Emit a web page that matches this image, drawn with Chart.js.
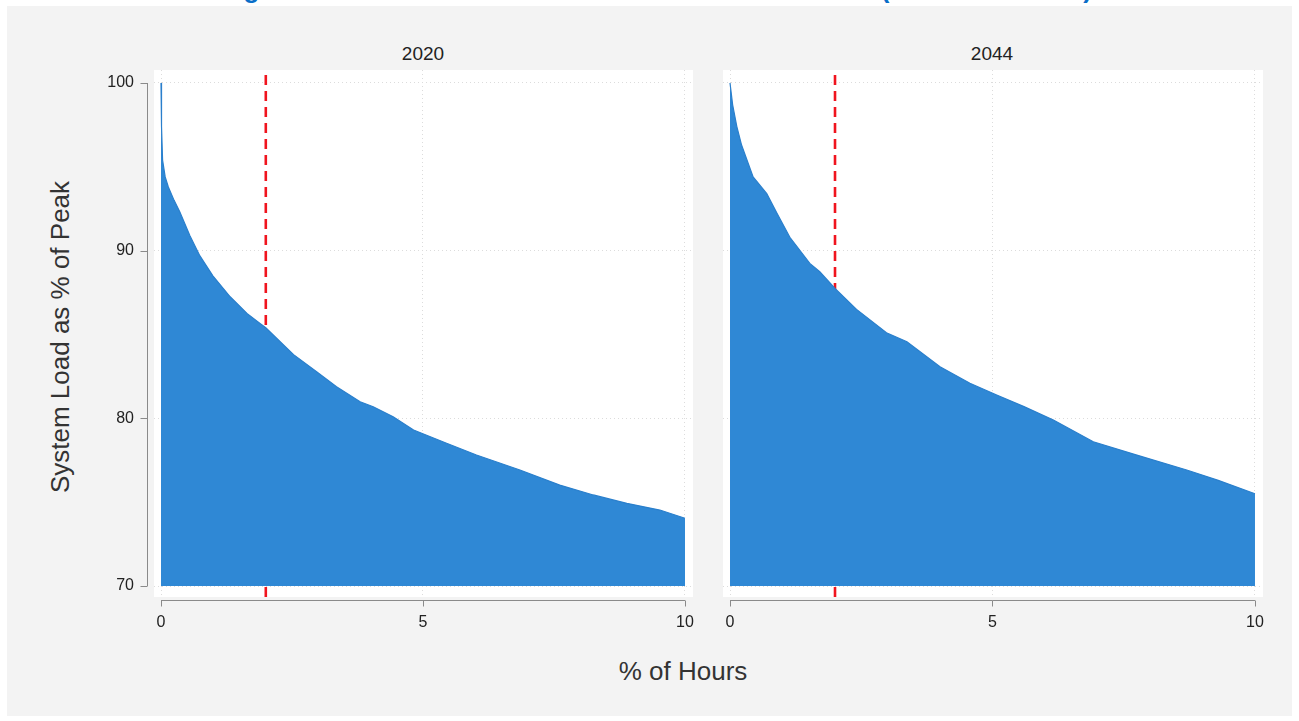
<!DOCTYPE html>
<html><head><meta charset="utf-8">
<script src="https://cdn.jsdelivr.net/npm/chart.js@4.4.1/dist/chart.umd.min.js"></script>
<style>
html,body{margin:0;padding:0;background:#fff;width:1299px;height:721px;overflow:hidden;font-family:"Liberation Sans",Arial,sans-serif;}
#bg{position:absolute;left:7px;top:6px;width:1285px;height:710px;background:#f3f3f3;}
#title{position:absolute;left:215px;top:-24px;line-height:26px;color:#0a6ec8;font-weight:bold;font-size:26px;white-space:nowrap;}
.cv{position:absolute;}
.ptitle{position:absolute;top:44px;width:120px;margin-left:-60px;text-align:center;font-size:19px;color:#222;line-height:20px;}
#ytitle{position:absolute;left:60px;top:337px;transform:translate(-50%,-50%) rotate(-90deg);font-size:26px;color:#333;white-space:nowrap;line-height:30px;}
#xtitle{position:absolute;left:683px;top:671px;transform:translate(-50%,-50%);font-size:26px;color:#333;white-space:nowrap;line-height:30px;}
</style></head>
<body>
<div id="bg"></div>
<div id="title">Figure 6-1: Forecasted Load Duration Curve (2020 vs 2044)</div>
<div class="ptitle" id="pt0" style="left:423px"></div>
<div class="ptitle" id="pt1" style="left:992px"></div>
<canvas class="cv" id="c0" width="620" height="600" style="left:80px;top:40px;width:620px;height:600px"></canvas>
<canvas class="cv" id="c1" width="580" height="600" style="left:700px;top:40px;width:580px;height:600px"></canvas>
<div id="ytitle">System Load as % of Peak</div>
<div id="xtitle">% of Hours</div>
<script>
// ---- data ----
const panelYears = ['2020', '2044'];
const hours2020 = [0, 0.01, 0.03, 0.08, 0.14, 0.25, 0.36, 0.55, 0.74, 0.99, 1.32, 1.64, 1.89, 2.0, 2.53, 2.97, 3.35, 3.8, 4.05, 4.43, 4.82, 5.45, 6.02, 6.85, 7.61, 8.25, 8.89, 9.52, 10];
const load2020  = [100, 97.4, 95.4, 94.4, 93.8, 93.0, 92.3, 90.9, 89.7, 88.5, 87.25, 86.26, 85.66, 85.4, 83.8, 82.78, 81.88, 80.99, 80.69, 80.1, 79.3, 78.51, 77.81, 76.92, 76.02, 75.43, 74.93, 74.53, 74.04];
const hours2044 = [0, 0.05, 0.13, 0.22, 0.44, 0.70, 0.9, 1.14, 1.52, 1.71, 2.0, 2.41, 2.98, 3.37, 4.0, 4.57, 5.08, 5.6, 6.16, 6.92, 7.75, 8.70, 9.3, 10];
const load2044  = [100, 98.7, 97.4, 96.3, 94.4, 93.4, 92.2, 90.8, 89.24, 88.74, 87.75, 86.5, 85.1, 84.57, 83.08, 82.09, 81.39, 80.7, 79.9, 78.6, 77.81, 76.92, 76.3, 75.5];
const peakHoursMarker = [2, 2];
const xTicks = [0, 5, 10];
const yTicks = [70, 80, 90, 100];
const xRange = [-0.1336, 10.1527];
const yRange = [69.344, 100.775];

document.getElementById('pt0').textContent = panelYears[0];
document.getElementById('pt1').textContent = panelYears[1];

// stretch title to reference width
(function(){
  const t = document.getElementById('title');
  const w = t.getBoundingClientRect().width;
  const n = t.textContent.length;
  t.style.letterSpacing = ((877 - w) / (n - 1)) + 'px';
})();

const FONT = '"Liberation Sans", Arial, sans-serif';

const plotBg = {
  id: 'plotBg',
  beforeDraw(chart) {
    const ca = chart.chartArea, ctx = chart.ctx;
    ctx.save(); ctx.fillStyle = '#ffffff';
    ctx.fillRect(ca.left, ca.top, ca.right - ca.left, ca.bottom - ca.top);
    ctx.restore();
  }
};
const stataAxes = {
  id: 'stataAxes',
  afterDraw(chart, args, opts) {
    const ctx = chart.ctx, xs = chart.scales.x, ys = chart.scales.y, ca = chart.chartArea;
    ctx.save();
    ctx.strokeStyle = '#8a8a8a'; ctx.lineWidth = 1;
    const yb = Math.round(ca.bottom + 3) + 0.5;
    ctx.beginPath();
    ctx.moveTo(xs.getPixelForValue(xTicks[0]), yb);
    ctx.lineTo(xs.getPixelForValue(xTicks[xTicks.length - 1]), yb);
    xTicks.forEach(v => { const p = Math.round(xs.getPixelForValue(v)) + 0.5; ctx.moveTo(p, yb); ctx.lineTo(p, yb + 6); });
    ctx.stroke();
    if (opts.showY) {
      const xl = Math.round(ca.left - 7) + 0.5;
      ctx.beginPath();
      ctx.moveTo(xl, ys.getPixelForValue(yTicks[0]));
      ctx.lineTo(xl, ys.getPixelForValue(yTicks[yTicks.length - 1]));
      yTicks.forEach(v => { const p = Math.round(ys.getPixelForValue(v)) + 0.5; ctx.moveTo(xl, p); ctx.lineTo(xl - 7, p); });
      ctx.stroke();
    }
    ctx.restore();
  }
};

function makeChart(id, hours, load, marker, showY) {
  const pts = hours.map((h, i) => ({ x: h, y: load[i] }));
  return new Chart(document.getElementById(id), {
    type: 'line',
    data: {
      datasets: [
        { data: pts, borderColor: '#2a7fcc', borderWidth: 1.2, backgroundColor: '#2f88d5',
          fill: { value: yTicks[0] }, pointRadius: 0, tension: 0 },
        { data: [{ x: marker, y: yRange[0] }, { x: marker, y: yRange[1] }], borderColor: '#f0141e',
          borderWidth: 2.6, borderDash: [10, 6], pointRadius: 0, fill: false }
      ]
    },
    options: {
      responsive: false, animation: false,
      layout: { padding: showY ? { top: 30, right: 7, left: 0, bottom: 0 } : { top: 30, right: 17, left: 23, bottom: 0 } },
      plugins: { legend: { display: false }, tooltip: { enabled: false }, title: { display: false }, stataAxes: { showY: showY } },
      scales: {
        x: {
          type: 'linear', min: xRange[0], max: xRange[1],
          afterBuildTicks: s => { s.ticks = xTicks.map(v => ({ value: v })); },
          afterFit: s => { s.height = 43; s.paddingLeft = 0; s.paddingRight = 0; },
          grid: { color: '#dcdcdc', lineWidth: 1, drawTicks: false },
          border: { display: false, dash: [1, 3] },
          ticks: { padding: 16, color: '#222', font: { family: FONT, size: 16 }, maxRotation: 0 }
        },
        y: {
          type: 'linear', min: yRange[0], max: yRange[1],
          afterBuildTicks: s => { s.ticks = yTicks.map(v => ({ value: v })); },
          afterFit: s => { s.width = showY ? 74 : 0; s.paddingTop = 0; s.paddingBottom = 0; },
          grid: { color: '#dcdcdc', lineWidth: 1, drawTicks: false },
          border: { display: false, dash: [1, 3] },
          ticks: { display: showY, padding: 20, color: '#222', font: { family: FONT, size: 16 } }
        }
      }
    },
    plugins: [plotBg, stataAxes]
  });
}

makeChart('c0', hours2020, load2020, peakHoursMarker[0], true);
makeChart('c1', hours2044, load2044, peakHoursMarker[1], false);
</script>
</body></html>
